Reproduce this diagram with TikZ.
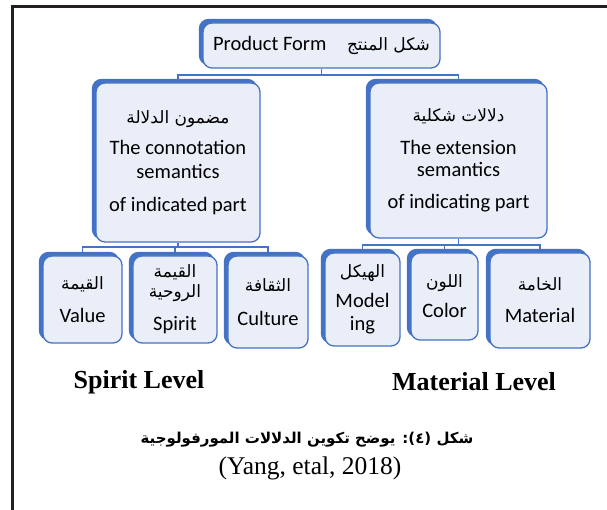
\documentclass[tikz,border=0pt]{standalone}
\usepackage{fontspec}
\setmainfont{Liberation Serif}
\newfontfamily\calfont{Carlito}
\newfontfamily\arabicfont[Script=Arabic]{DejaVu Sans}
\TeXXeTstate=1
\usetikzlibrary{shadows}
\definecolor{boxblue}{HTML}{4472C4}
\definecolor{boxfill}{HTML}{E9EEF8}
\definecolor{framec}{HTML}{231F20}
\newcommand{\artxt}[1]{{\arabicfont\fontsize{17}{20}\selectfont\beginR #1\endR}}
\tikzset{
  mybox/.style={draw=boxblue, fill=boxfill, line width=1.3pt, rounded corners=9pt,
    align=center, inner sep=0pt, font=\calfont\fontsize{20.5}{24}\selectfont,
    general shadow={fill=boxblue, draw=boxblue, line width=1.3pt, shadow xshift=-3.5pt, shadow yshift=3.5pt}},
  conn/.style={draw=boxblue, line width=1.8pt},
  lvl/.style={font=\bfseries\fontsize{26}{30}\selectfont, inner sep=0pt},
  captxt/.style={font=\fontsize{25.5}{30}\selectfont, inner sep=0pt}
}
\begin{document}
\begin{tikzpicture}[x=1pt,y=-1pt]
\useasboundingbox (0,0) rectangle (607,510);
\fill[white] (0,0) rectangle (607,510);
\draw[framec, line width=3pt] (12,510) -- (12,7) -- (607,7);

\node[mybox, minimum width=237pt, minimum height=45pt] (top) at (321.5,45.5)
  {Product Form\quad\artxt{شكل المنتج}};

\node[mybox, minimum width=164pt, minimum height=159pt] (left2) at (178,162.5)
  {\artxt{مضمون الدلالة}\\[7pt]The connotation\\semantics\\[9pt]of indicated part};
\node[mybox, minimum width=177pt, minimum height=155pt] (right2) at (458.5,160.5)
  {\artxt{دلالات شكلية}\\[9pt]The extension\\[-2pt]semantics\\[8pt]of indicating part};

\node[mybox, minimum width=79pt, minimum height=87pt] (value) at (82.5,299.5)
  {\artxt{القيمة}\\[9pt]Value};
\node[mybox, minimum width=84pt, minimum height=87pt] (spirit) at (175,299.5)
  {\artxt{القيمة}\\[-4pt]\artxt{الروحية}\\[9pt]Spirit};
\node[mybox, minimum width=80pt, minimum height=92pt] (culture) at (268,302)
  {\artxt{الثقافة}\\[10pt]Culture};

\node[mybox, minimum width=75pt, minimum height=93pt] (modeling) at (362.5,299.5)
  {\artxt{الهيكل}\\[6pt]Model\\[-1pt]ing};
\node[mybox, minimum width=67pt, minimum height=87pt] (color) at (444.5,296.5)
  {\artxt{اللون}\\[6pt]Color};
\node[mybox, minimum width=100pt, minimum height=95pt] (material) at (540,300.5)
  {\artxt{الخامة}\\[8pt]Material};

% connectors
\draw[conn] (top.south) -- ++(0,6) coordinate (j1);
\draw[conn] (left2.north) |- (j1) -| (right2.north);
\draw[conn] (left2.south) -- ++(0,4) coordinate (j2);
\draw[conn] (value.north) |- (j2) -| (culture.north);
\draw[conn] (spirit.north) -- (spirit.north |- j2);
\draw[conn] (right2.south) -- ++(0,6) coordinate (j3);
\draw[conn] (modeling.north) |- (j3) -| (material.north);
\draw[conn] (color.north) -- (color.north |- j3);

\node[lvl] (spiritlvl) at (139,382) {Spirit Level};
\node[lvl] (matlvl) at (474,382) {Material Level};
\node[inner sep=0pt] (cap) at (307,440)
  {\arabicfont\bfseries\fontsize{15}{20}\selectfont\beginR شكل (٤): يوضح تكوين الدلالات المورفولوجية\endR};
\node[captxt] (src) at (310,468) {(Yang, etal, 2018)};
\end{tikzpicture}
\end{document}
